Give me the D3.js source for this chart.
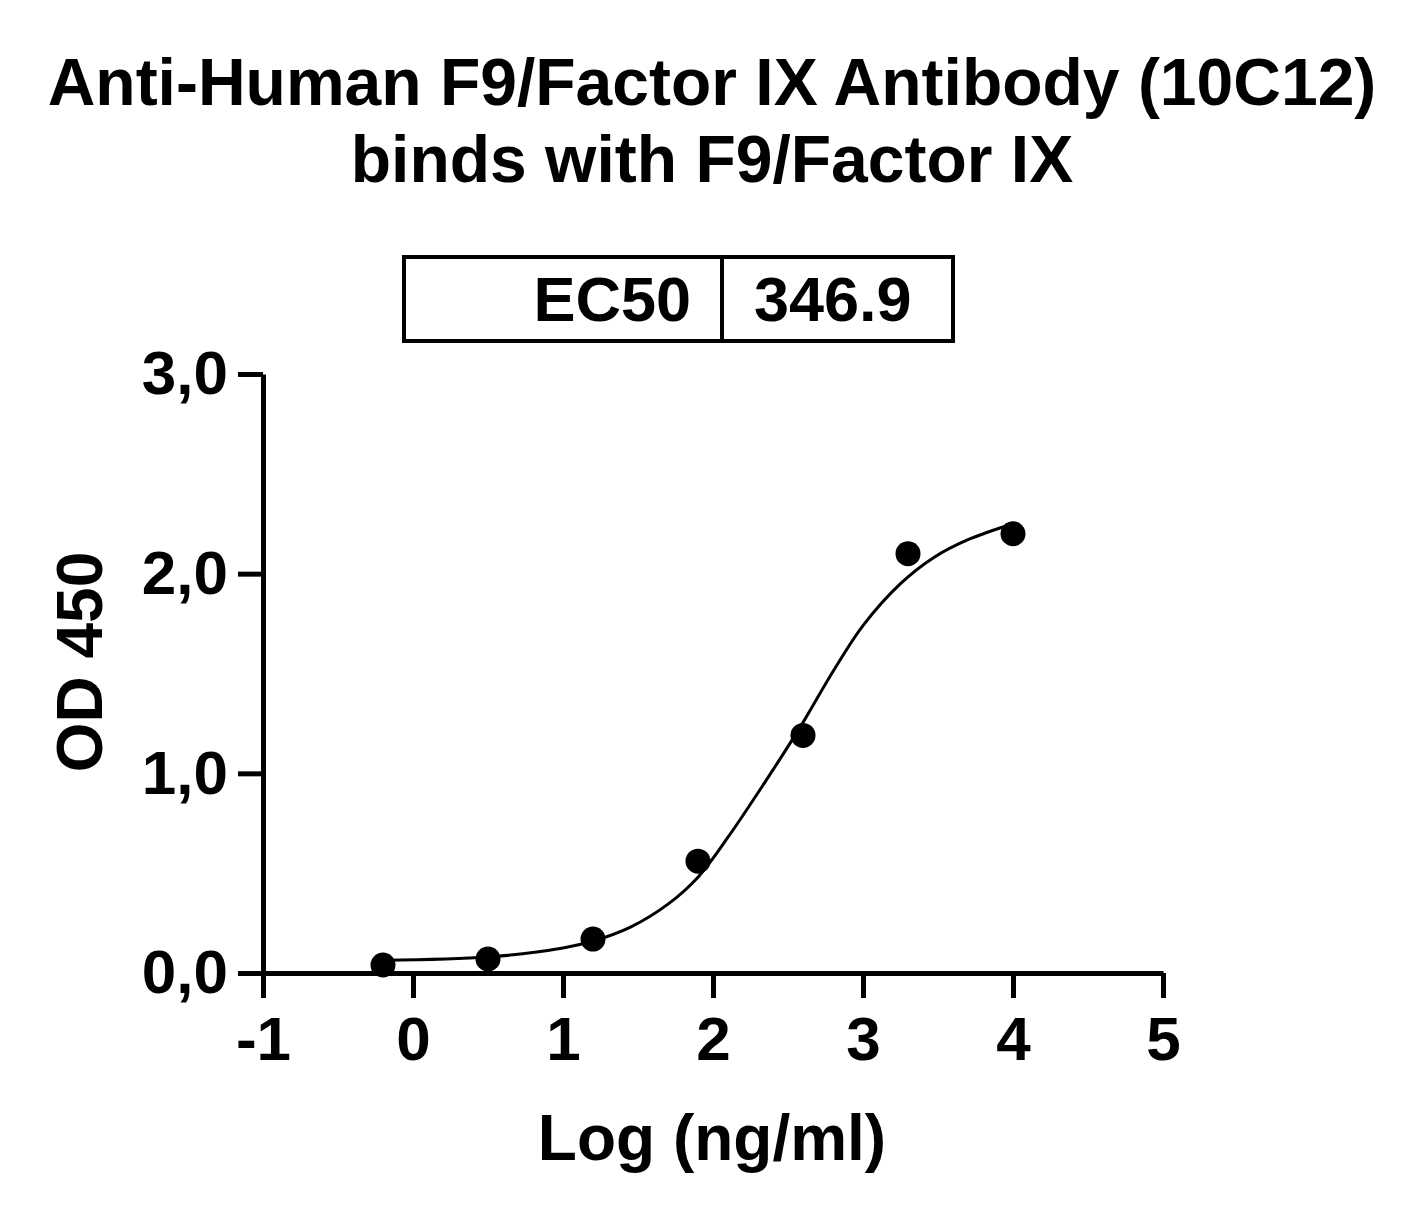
<!DOCTYPE html>
<html>
  <head>
    <meta charset="utf-8">
    <script type="text/javascript" src="https://d3js.org/d3.v7.min.js"></script>
    <title></title>
  </head>
  <style media="screen">
    body { margin: 0; background: #fff; }
    text { font-family: "Liberation Sans", Arial, sans-serif; font-weight: bold; fill: #000; }
  </style>
  <body>

    <script type="text/javascript">

    // measured points
    var logConc = [-0.2, 0.5, 1.2, 1.9, 2.6, 3.3, 4.0];
    var od450 = [0.04, 0.07, 0.17, 0.56, 1.19, 2.10, 2.20];

    // fitted curve
    var fitX = [-0.2, 0.5, 1.0, 1.2, 1.45, 1.7, 1.9, 2.1, 2.35, 2.58, 2.8, 3.0, 3.25, 3.47, 3.7, 4.0];
    var fitY = [0.064, 0.08, 0.125, 0.16, 0.23, 0.345, 0.48, 0.68, 0.96, 1.23, 1.51, 1.74, 1.95, 2.08, 2.17, 2.25];

    var xTicks = [-1, 0, 1, 2, 3, 4, 5];
    var yTicks = [0, 1, 2, 3];
    var yTickLabels = ["0,0", "1,0", "2,0", "3,0"];

    var titleLines = ["Anti-Human F9/Factor IX Antibody (10C12)", "binds with F9/Factor IX"];
    var ec50Label = "EC50";
    var ec50Value = "346.9";

    var width = 1425, height = 1220;

    var svg = d3.select("body").append("svg")
        .attr("width", width)
        .attr("height", height);

    var x = d3.scaleLinear().domain([-1, 5]).range([263, 1163]);
    var y = d3.scaleLinear().domain([0, 3]).range([973, 374]);

    // title
    svg.selectAll(".title")
        .data(titleLines)
      .enter().append("text")
        .attr("class", "title")
        .attr("x", 712)
        .attr("y", function(d, i) { return 105 + i * 77; })
        .attr("text-anchor", "middle")
        .style("font-size", "66px")
        .text(function(d) { return d; });

    // EC50 box
    var box = svg.append("g");
    box.append("rect")
        .attr("x", 404).attr("y", 257)
        .attr("width", 549).attr("height", 84)
        .attr("fill", "none")
        .attr("stroke", "#000")
        .attr("stroke-width", 4);
    box.append("line")
        .attr("x1", 722).attr("x2", 722)
        .attr("y1", 257).attr("y2", 341)
        .attr("stroke", "#000")
        .attr("stroke-width", 4);
    box.append("text")
        .attr("x", 691).attr("y", 321)
        .attr("text-anchor", "end")
        .style("font-size", "63px")
        .text(ec50Label);
    box.append("text")
        .attr("x", 754).attr("y", 321)
        .style("font-size", "63px")
        .text(ec50Value);

    // axes
    var xAxis = d3.axisBottom(x)
        .tickValues(xTicks)
        .tickSize(25)
        .tickSizeOuter(0)
        .tickPadding(18)
        .tickFormat(function(d) { return String(d); });

    var yAxis = d3.axisLeft(y)
        .tickValues(yTicks)
        .tickSize(25)
        .tickSizeOuter(0)
        .tickPadding(10)
        .tickFormat(function(d, i) { return yTickLabels[i]; });

    var gx = svg.append("g")
        .attr("transform", "translate(0," + y(0) + ")")
        .call(xAxis);

    var gy = svg.append("g")
        .attr("transform", "translate(" + x(-1) + ",0)")
        .call(yAxis);

    [gx, gy].forEach(function(g) {
      g.select(".domain").attr("stroke-width", 5).attr("stroke", "#000");
      g.selectAll(".tick line").attr("stroke-width", 5).attr("stroke", "#000");
      g.selectAll(".tick text")
          .attr("fill", "#000")
          .style("font-family", "'Liberation Sans', Arial, sans-serif")
          .style("font-weight", "bold")
          .style("font-size", "62px");
    });

    // axis titles
    svg.append("text")
        .attr("x", 712)
        .attr("y", 1160)
        .attr("text-anchor", "middle")
        .style("font-size", "64px")
        .text("Log (ng/ml)");

    svg.append("text")
        .attr("transform", "translate(102,662) rotate(-90)")
        .attr("text-anchor", "middle")
        .style("font-size", "64px")
        .text("OD 450");

    // fitted curve
    var fitData = fitX.map(function(d, i) { return {x: d, y: fitY[i]}; });

    var line = d3.line()
        .curve(d3.curveCatmullRom.alpha(0.5))
        .x(function(d) { return x(d.x); })
        .y(function(d) { return y(d.y); });

    svg.append("path")
        .datum(fitData)
        .attr("d", line)
        .attr("fill", "none")
        .attr("stroke", "#000")
        .attr("stroke-width", 3);

    // points
    svg.selectAll(".dot")
        .data(logConc)
      .enter().append("circle")
        .attr("class", "dot")
        .attr("cx", function(d) { return x(d); })
        .attr("cy", function(d, i) { return y(od450[i]); })
        .attr("r", 12.5)
        .attr("fill", "#000");

    </script>

  </body>
</html>
